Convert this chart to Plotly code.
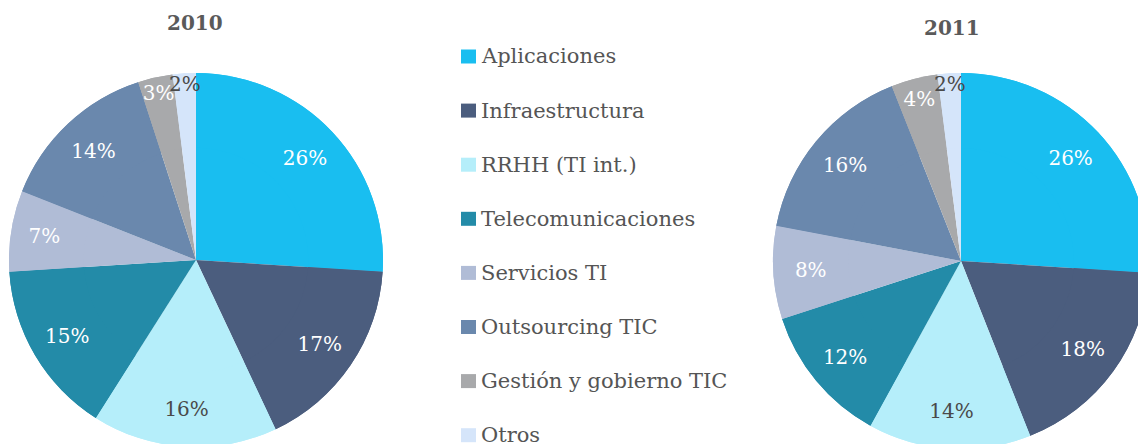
import plotly.graph_objects as go

categories = ["Aplicaciones", "Infraestructura", "RRHH (TI int.)", "Telecomunicaciones",
              "Servicios TI", "Outsourcing TIC", "Gestión y gobierno TIC", "Otros"]
values_2010 = [26, 17, 16, 15, 7, 14, 3, 2]
values_2011 = [26, 18, 14, 12, 8, 16, 4, 2]
years = ["2010", "2011"]

colors = ["#19BEF0", "#4B5D7E", "#B5EEFA", "#238BA8", "#B0BCD6", "#6A88AD", "#A8A9AB", "#D5E5FA"]
text_colors = ["#FFFFFF", "#FFFFFF", "#4A4A4A", "#FFFFFF", "#FFFFFF", "#FFFFFF", "#FFFFFF", "#4A4A4A"]

FONT = "DejaVu Serif"
W, H = 1150, 450


def dom(x0, x1, y0, y1):
    return dict(x=[x0 / W, x1 / W], y=[1 - y1 / H, 1 - y0 / H])


pie_boxes = [(9, 383, 73, 447), (773, 1149, 73, 449)]
title_pos = [(195, 23), (952, 28)]

fig = go.Figure()
for vals, box in zip([values_2010, values_2011], pie_boxes):
    common = dict(labels=categories, values=vals, sort=False, direction="clockwise", rotation=0,
                  marker=dict(colors=colors, line=dict(width=0)), domain=dom(*box),
                  showlegend=False, hoverinfo="label+percent")
    fig.add_trace(go.Pie(textinfo="none", **common))
    fig.add_trace(go.Pie(hole=0.6, texttemplate="%{value}%", textposition="inside",
                         insidetextorientation="horizontal",
                         textfont=dict(family=FONT, size=20, color=text_colors), **common))

annotations = []
for yr, (tx, ty) in zip(years, title_pos):
    annotations.append(dict(text="<b>" + yr + "</b>", x=tx / W, y=1 - ty / H, xref="paper", yref="paper",
                            xanchor="center", yanchor="middle", showarrow=False,
                            font=dict(family=FONT, size=20, color="#5A5A5A")))

shapes = []
y0, step = 56.5, 54.1
for i, (cat, col) in enumerate(zip(categories, colors)):
    yc = y0 + i * step
    annotations.append(dict(text=cat, x=479 / W, y=1 - yc / H, xref="paper", yref="paper",
                            xanchor="left", yanchor="middle", showarrow=False,
                            font=dict(family=FONT, size=21, color="#555555")))
    shapes.append(dict(type="rect", xref="paper", yref="paper", x0=461 / W, x1=476 / W,
                       y0=1 - (yc + 7) / H, y1=1 - (yc - 7) / H, fillcolor=col, line=dict(width=0)))

fig.update_layout(width=W, height=H, margin=dict(l=0, r=0, t=0, b=0),
                  paper_bgcolor="white", plot_bgcolor="white",
                  annotations=annotations, shapes=shapes,
                  uniformtext=dict(minsize=20, mode="show"))

fig.write_html("out.html", config={"displayModeBar": False},
               post_script="document.body.style.margin='0';document.body.style.overflow='hidden';"
                           "document.documentElement.style.overflow='hidden';")
